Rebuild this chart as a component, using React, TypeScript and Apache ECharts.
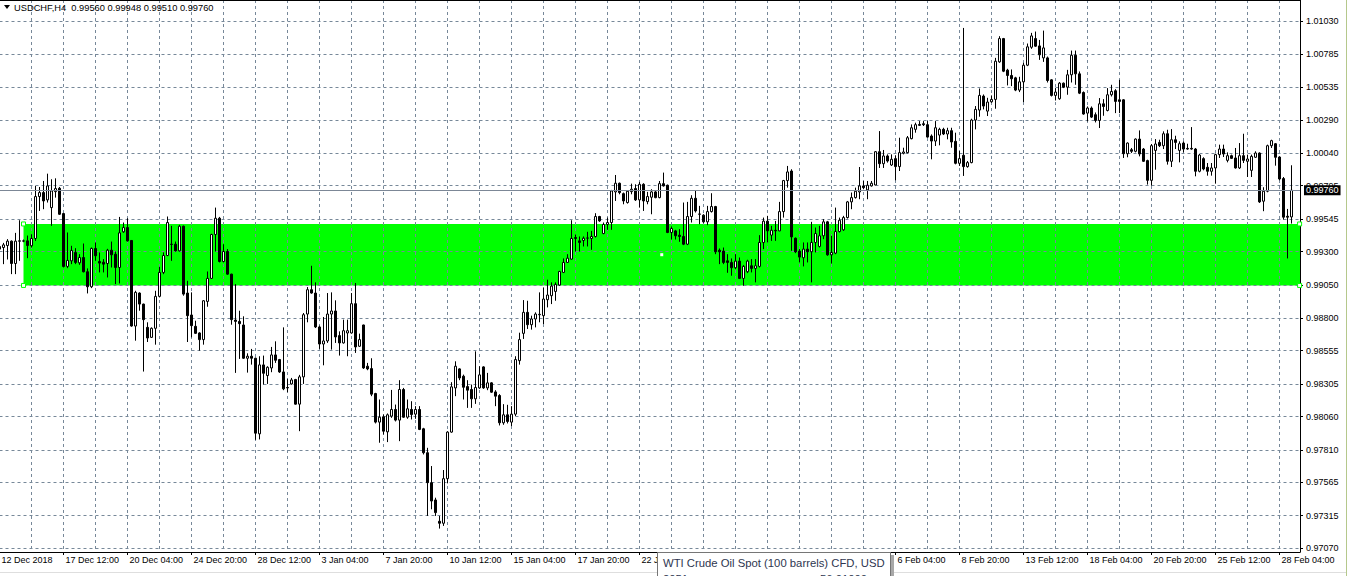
import React, { useEffect, useRef } from "react";
import * as echarts from "echarts";

// ---------- chart identity ----------
const SYMBOL = "USDCHF";
const TIMEFRAME = "H4";

// ---------- x axis: one label every 16 H4 bars, grid line every 8 bars ----------
const X_TICK_LABELS = [
  "12 Dec 2018", "17 Dec 12:00", "20 Dec 04:00", "24 Dec 20:00", "28 Dec 12:00",
  "3 Jan 04:00", "7 Jan 20:00", "10 Jan 12:00", "15 Jan 04:00", "17 Jan 20:00",
  "22 Jan 12:00", "25 Jan 04:00", "29 Jan 20:00", "1 Feb 12:00", "6 Feb 04:00",
  "8 Feb 20:00", "13 Feb 12:00", "18 Feb 04:00", "20 Feb 20:00", "25 Feb 12:00",
  "28 Feb 04:00",
];
// labels hidden behind the terminal's hover tooltip in the screenshot
const X_LABELS_UNDER_TOOLTIP = ["25 Jan 04:00", "29 Jan 20:00", "1 Feb 12:00"];
const BARS_PER_LABEL = 16;
const BARS_PER_GRID = 8;

// ---------- y axis tick labels ----------
const Y_TICKS = [
  1.0103, 1.00785, 1.00535, 1.0029, 1.0004, 0.99795, 0.99545, 0.993, 0.9905,
  0.988, 0.98555, 0.98305, 0.9806, 0.9781, 0.97565, 0.97315, 0.9707,
];

// ---------- support zone (green rectangle) ----------
const ZONE_START_BAR = 6;
const ZONE_TOP = 0.99507;
const ZONE_BOTTOM = 0.99045;

// ---------- H4 bars: [open, high, low, close] ----------
// 12 Dec 2018 20:00 .. 31 Dec 2018 20:00
const DEC_BARS = [
  [0.99318, 0.99355, 0.9918, 0.99338], [0.9933, 0.99365, 0.99205, 0.9935], [0.99345, 0.99393, 0.9924, 0.99378],
  [0.99378, 0.99383, 0.9913, 0.9921], [0.9921, 0.9944, 0.9913, 0.99378], [0.9938, 0.99535, 0.9923, 0.99378],
  [0.99378, 0.9939, 0.9937, 0.9938], [0.9938, 0.9942, 0.9925, 0.99345], [0.99343, 0.9943, 0.9933, 0.99398],
  [0.99398, 0.99793, 0.9938, 0.99713], [0.99713, 0.99785, 0.99605, 0.99743], [0.99743, 0.9983, 0.99618, 0.9968],
  [0.99688, 0.99885, 0.99668, 0.99793], [0.9963, 0.99843, 0.99493, 0.99755], [0.9975, 0.9985, 0.99705, 0.99773],
  [0.99775, 0.99785, 0.99575, 0.9958], [0.99585, 0.9959, 0.9918, 0.99188], [0.99188, 0.99443, 0.99175, 0.99233],
  [0.9923, 0.99343, 0.99205, 0.99308], [0.99293, 0.99325, 0.99205, 0.99218], [0.99215, 0.9928, 0.992, 0.99255],
  [0.99255, 0.9936, 0.99143, 0.99148], [0.99148, 0.99173, 0.98985, 0.99035], [0.99035, 0.9933, 0.99025, 0.99323],
  [0.99323, 0.99368, 0.9923, 0.99268], [0.99225, 0.99293, 0.99143, 0.99213], [0.9922, 0.99243, 0.99143, 0.99205],
  [0.9921, 0.9932, 0.99105, 0.9931], [0.9931, 0.99375, 0.9918, 0.99275], [0.9928, 0.993, 0.99055, 0.9918],
  [0.9918, 0.9956, 0.9906, 0.9944], [0.99448, 0.99518, 0.9944, 0.9948], [0.9948, 0.9955, 0.99375, 0.9938],
  [0.99383, 0.99385, 0.98735, 0.9874], [0.9874, 0.99005, 0.9863, 0.98993], [0.98988, 0.98993, 0.98855, 0.98905],
  [0.98905, 0.98908, 0.98398, 0.98788], [0.9873, 0.98768, 0.9862, 0.9865], [0.98655, 0.9873, 0.9865, 0.98723],
  [0.98723, 0.99005, 0.986, 0.98963], [0.98963, 0.99185, 0.98955, 0.99143], [0.99143, 0.99293, 0.9913, 0.9927],
  [0.9927, 0.99563, 0.99265, 0.99518], [0.99355, 0.99493, 0.9923, 0.99353], [0.99355, 0.99375, 0.993, 0.99305],
  [0.99305, 0.995, 0.993, 0.9949], [0.9949, 0.99495, 0.98968, 0.9898], [0.98988, 0.9908, 0.9862, 0.98818],
  [0.98823, 0.98993, 0.98655, 0.98743], [0.98738, 0.9878, 0.9868, 0.98685], [0.98688, 0.98693, 0.98555, 0.98638],
  [0.98638, 0.98935, 0.986, 0.9893], [0.98925, 0.9915, 0.98885, 0.99098], [0.99098, 0.99433, 0.99093, 0.99428],
  [0.99428, 0.9963, 0.993, 0.9955], [0.9955, 0.9956, 0.99218, 0.99225], [0.99225, 0.99355, 0.99218, 0.993],
  [0.993, 0.99318, 0.99125, 0.9913], [0.9913, 0.99133, 0.9875, 0.98788], [0.98785, 0.99055, 0.98388, 0.98775],
  [0.98775, 0.98855, 0.98493, 0.98758], [0.98748, 0.98813, 0.98493, 0.98498], [0.98498, 0.98535, 0.9839, 0.98513],
  [0.98513, 0.98568, 0.9845, 0.98498], [0.98498, 0.98503, 0.97885, 0.97935], [0.9793, 0.98513, 0.97888, 0.98448],
  [0.98448, 0.98518, 0.983, 0.98385], [0.98368, 0.98438, 0.98305, 0.9843], [0.98425, 0.98583, 0.98393, 0.98523],
  [0.98523, 0.98625, 0.98463, 0.98483], [0.98488, 0.98493, 0.98388, 0.98395], [0.98395, 0.9873, 0.98258, 0.98268],
  [0.98278, 0.98343, 0.98243, 0.98275],
];

// 2 Jan 2019 00:00 .. 31 Jan 2019 20:00
const JAN_BARS = [
  [0.98305, 0.9835, 0.983, 0.98335], [0.98338, 0.98343, 0.9815, 0.98153], [0.98153, 0.98373, 0.9795, 0.98358],
  [0.98358, 0.98838, 0.98305, 0.98825], [0.9883, 0.99033, 0.98768, 0.99013], [0.99013, 0.99193, 0.98983, 0.98988],
  [0.98988, 0.99068, 0.98725, 0.98733], [0.98733, 0.98743, 0.98568, 0.98605], [0.98605, 0.98808, 0.98445, 0.98628],
  [0.98628, 0.98988, 0.98613, 0.9883], [0.9883, 0.98993, 0.98563, 0.98853], [0.98853, 0.98933, 0.98613, 0.98658],
  [0.98668, 0.987, 0.98518, 0.98613], [0.98613, 0.98788, 0.98608, 0.98705], [0.98688, 0.98788, 0.98513, 0.98705],
  [0.98688, 0.98988, 0.98683, 0.98908], [0.98908, 0.99063, 0.98538, 0.98583], [0.98588, 0.98683, 0.98583, 0.98638],
  [0.98748, 0.9875, 0.98418, 0.98425], [0.98438, 0.98463, 0.98408, 0.98418], [0.9842, 0.98498, 0.98213, 0.98228],
  [0.98233, 0.98238, 0.98008, 0.98018], [0.98018, 0.98188, 0.97863, 0.98055], [0.98058, 0.98075, 0.97925, 0.9795],
  [0.97945, 0.98083, 0.97868, 0.98073], [0.98063, 0.9826, 0.9805, 0.98113], [0.98113, 0.9815, 0.98023, 0.98033],
  [0.98033, 0.98333, 0.97875, 0.98263], [0.98263, 0.98275, 0.9805, 0.98055], [0.98055, 0.98188, 0.98043, 0.98118],
  [0.98113, 0.98175, 0.98038, 0.98075], [0.98078, 0.98138, 0.98043, 0.98113], [0.98113, 0.98138, 0.97958, 0.97963],
  [0.97968, 0.97975, 0.97775, 0.97788], [0.97788, 0.97825, 0.97313, 0.97563], [0.97563, 0.97688, 0.97363, 0.97425],
  [0.97433, 0.9745, 0.97313, 0.97338], [0.97273, 0.97313, 0.97218, 0.97258], [0.97258, 0.97658, 0.97238, 0.97593],
  [0.97593, 0.9795, 0.97558, 0.97943], [0.97943, 0.98318, 0.97938, 0.98283], [0.98275, 0.98475, 0.98213, 0.98438],
  [0.98418, 0.98423, 0.98333, 0.9835], [0.98363, 0.98375, 0.98188, 0.9828], [0.98285, 0.98333, 0.98125, 0.98258],
  [0.98263, 0.983, 0.98125, 0.98193], [0.98193, 0.9855, 0.98155, 0.98278], [0.98275, 0.98438, 0.98268, 0.98373],
  [0.98433, 0.98438, 0.98268, 0.98275], [0.98275, 0.98388, 0.98258, 0.98313], [0.98313, 0.98318, 0.98238, 0.98243],
  [0.98245, 0.98258, 0.98138, 0.98213], [0.98218, 0.98228, 0.97993, 0.98013], [0.98013, 0.98153, 0.97998, 0.98073],
  [0.98073, 0.98148, 0.98008, 0.98023], [0.98018, 0.98138, 0.97988, 0.98078], [0.98078, 0.98513, 0.98063, 0.98488],
  [0.9848, 0.9869, 0.9845, 0.98638], [0.98685, 0.98935, 0.98643, 0.98843], [0.98843, 0.9893, 0.98718, 0.9875],
  [0.9875, 0.98818, 0.98713, 0.98793], [0.98793, 0.98843, 0.9873, 0.9883], [0.98825, 0.98993, 0.98768, 0.98828],
  [0.98818, 0.9903, 0.98755, 0.98943], [0.98938, 0.99088, 0.9888, 0.98973], [0.98968, 0.99068, 0.98905, 0.9904],
  [0.99, 0.99068, 0.9893, 0.99053], [0.99048, 0.99155, 0.99043, 0.9915], [0.99143, 0.99248, 0.99138, 0.99218],
  [0.99218, 0.9928, 0.99215, 0.9925], [0.99243, 0.99535, 0.99238, 0.99398], [0.99405, 0.99428, 0.993, 0.99398],
  [0.9938, 0.99413, 0.993, 0.99368], [0.99383, 0.99413, 0.99338, 0.994], [0.994, 0.99448, 0.99338, 0.99402],
  [0.99398, 0.99455, 0.99313, 0.99413], [0.99413, 0.99588, 0.99405, 0.99563], [0.99563, 0.99568, 0.99523, 0.9953],
  [0.99435, 0.99518, 0.9943, 0.99503], [0.99503, 0.99555, 0.99463, 0.99518], [0.99518, 0.99763, 0.99463, 0.99755],
  [0.99748, 0.99875, 0.9968, 0.99813], [0.99813, 0.99818, 0.9973, 0.99743], [0.99735, 0.99743, 0.99655, 0.9968],
  [0.99668, 0.99755, 0.9966, 0.99753], [0.9975, 0.9981, 0.9973, 0.99768], [0.99773, 0.99805, 0.9968, 0.99688],
  [0.99688, 0.99823, 0.9963, 0.99805], [0.99805, 0.99813, 0.99605, 0.9968], [0.99675, 0.99748, 0.99655, 0.99713],
  [0.99708, 0.99768, 0.9958, 0.99748], [0.99748, 0.99755, 0.997, 0.99705], [0.99705, 0.9983, 0.997, 0.9981],
  [0.9981, 0.99893, 0.99788, 0.99793], [0.99798, 0.99803, 0.99438, 0.99443], [0.99443, 0.99488, 0.9939, 0.99473],
  [0.99455, 0.99463, 0.9939, 0.99418], [0.99423, 0.99468, 0.99373, 0.99413], [0.99413, 0.99668, 0.99348, 0.99355],
  [0.99355, 0.99673, 0.99348, 0.99563], [0.99563, 0.99723, 0.99518, 0.997], [0.997, 0.99755, 0.99593, 0.99605],
  [0.9958, 0.99643, 0.99505, 0.99582], [0.99573, 0.9958, 0.99513, 0.99523], [0.99523, 0.99643, 0.99498, 0.996],
  [0.996, 0.99738, 0.99593, 0.99638], [0.99638, 0.99643, 0.9928, 0.99298], [0.9931, 0.99323, 0.99205, 0.99298],
  [0.99303, 0.9933, 0.99205, 0.99218], [0.9923, 0.9928, 0.9914, 0.99218], [0.99218, 0.99248, 0.99118, 0.99178],
  [0.99178, 0.9928, 0.99168, 0.99228], [0.99228, 0.99255, 0.99093, 0.99098], [0.99098, 0.99198, 0.99043, 0.99188],
  [0.99148, 0.99238, 0.99138, 0.99228], [0.99193, 0.99243, 0.99143, 0.99173], [0.99173, 0.99243, 0.99068, 0.99193],
  [0.99188, 0.99423, 0.9918, 0.99368], [0.99368, 0.99555, 0.99318, 0.99528], [0.99528, 0.99568, 0.99368, 0.99455],
  [0.99423, 0.99493, 0.9938, 0.9946], [0.9946, 0.9953, 0.9938, 0.99455], [0.99455, 0.99673, 0.99453, 0.996],
  [0.996, 0.99838, 0.99555, 0.99833], [0.99833, 0.99943, 0.9978, 0.99898], [0.99905, 0.99918, 0.99305, 0.9941],
  [0.994, 0.99405, 0.99288, 0.99298], [0.99303, 0.99318, 0.99218, 0.99258], [0.99253, 0.99368, 0.99188, 0.99318],
  [0.99318, 0.99368, 0.99218, 0.99298], [0.99298, 0.99523, 0.99068, 0.99368], [0.99368, 0.9948, 0.99293, 0.99435],
];

// 1 Feb 2019 00:00 .. 28 Feb 2019 16:00
const FEB_BARS = [
  [0.99338, 0.99493, 0.9933, 0.99418], [0.99418, 0.99543, 0.99393, 0.99523], [0.99523, 0.9953, 0.99268, 0.99275],
  [0.99275, 0.99418, 0.9921, 0.99293], [0.99288, 0.9963, 0.9928, 0.9945], [0.9945, 0.99555, 0.99443, 0.99535],
  [0.99463, 0.99568, 0.99455, 0.99555], [0.99555, 0.9968, 0.99548, 0.99673], [0.99673, 0.99743, 0.99618, 0.99705],
  [0.99705, 0.9978, 0.99698, 0.99753], [0.99748, 0.99935, 0.99693, 0.99793], [0.99793, 0.9983, 0.99768, 0.9978],
  [0.99763, 0.9983, 0.99693, 0.99798], [0.99793, 0.9983, 0.99788, 0.99813], [0.998, 1.00055, 0.99798, 1.0005],
  [1.0005, 1.00205, 0.99928, 0.9996], [0.9996, 1.00063, 0.99928, 1.00018], [1.00018, 1.0003, 0.99968, 0.9998],
  [0.9995, 1.0003, 0.99943, 0.99993], [0.99998, 1.00023, 0.99835, 0.99938], [0.99938, 1.00155, 0.99905, 1.00043],
  [1.00038, 1.0008, 1.0003, 1.00048], [1.00043, 1.00168, 1.00038, 1.00155], [1.00148, 1.00255, 1.00143, 1.0023],
  [1.00218, 1.00268, 1.00193, 1.00253], [1.00255, 1.0028, 1.00243, 1.00248], [1.0026, 1.0028, 1.00243, 1.00253],
  [1.00253, 1.0028, 1.00155, 1.0016], [1.00168, 1.0018, 0.99993, 1.0013], [1.0013, 1.0028, 1.00093, 1.0023],
  [1.00175, 1.0023, 1.00098, 1.00218], [1.00218, 1.0023, 1.00175, 1.00183], [1.00183, 1.0023, 1.00143, 1.00208],
  [1.00208, 1.0023, 1.0008, 1.00123], [1.00128, 1.00193, 0.99955, 0.99963], [0.99963, 1.00055, 0.99943, 0.99998],
  [1.00023, 1.0098, 0.99868, 0.99938], [0.99938, 0.9998, 0.9993, 0.99968], [0.99968, 1.00298, 0.99963, 1.00288],
  [1.00288, 1.00393, 1.00218, 1.00368], [1.00363, 1.00525, 1.00313, 1.00473], [1.00468, 1.0048, 1.00368, 1.00393],
  [1.00355, 1.00455, 1.00318, 1.00423], [1.00425, 1.00473, 1.00418, 1.00443], [1.00443, 1.00755, 1.00373, 1.0073],
  [1.00725, 1.00918, 1.00718, 1.009], [1.009, 1.00905, 1.00648, 1.00655], [1.00663, 1.00673, 1.00548, 1.00623],
  [1.00623, 1.00668, 1.00543, 1.00598], [1.00605, 1.00613, 1.00505, 1.00513], [1.00513, 1.00613, 1.00498, 1.00575],
  [1.00575, 1.00718, 1.00423, 1.007], [1.007, 1.00863, 1.00693, 1.00838], [1.00835, 1.00943, 1.00823, 1.0092],
  [1.009, 1.00953, 1.00838, 1.00843], [1.00845, 1.0089, 1.0074, 1.00778], [1.00755, 1.0096, 1.00725, 1.0083],
  [1.00755, 1.00765, 1.0057, 1.00585], [1.0059, 1.00595, 1.00465, 1.00473], [1.00473, 1.00528, 1.00435, 1.00498],
  [1.00448, 1.00573, 1.0044, 1.00565], [1.00565, 1.0057, 1.00528, 1.00535], [1.00535, 1.00665, 1.00478, 1.00628],
  [1.00628, 1.0081, 1.0057, 1.00775], [1.00775, 1.0081, 1.00553, 1.00635], [1.00635, 1.00653, 1.00483, 1.0049],
  [1.00495, 1.00503, 1.00328, 1.00333], [1.0034, 1.0039, 1.00278, 1.00378], [1.00378, 1.0039, 1.00303, 1.0031],
  [1.00328, 1.00345, 1.0027, 1.00285], [1.00285, 1.00453, 1.00228, 1.0041], [1.0041, 1.00445, 1.0032, 1.0039],
  [1.0036, 1.00528, 1.00353, 1.00478], [1.00478, 1.00553, 1.00465, 1.00503], [1.00508, 1.0052, 1.0034, 1.00428],
  [1.0044, 1.0059, 1.0034, 1.00428], [1.0044, 1.00445, 1.00003, 1.00035], [1.00035, 1.0012, 1.00008, 1.00115],
  [1.00065, 1.00078, 1.0004, 1.00053], [1.00053, 1.0015, 1.00045, 1.00145], [1.00145, 1.0021, 1.00015, 1.00033],
  [1.0007, 1.00078, 0.99973, 0.99978], [0.99983, 0.9999, 0.99803, 0.99835], [0.99835, 1.00108, 0.99795, 1.00095],
  [1.0006, 1.00145, 0.99915, 1.00108], [1.0012, 1.0014, 1.00085, 1.00095], [1.00095, 1.00203, 1.0007, 1.00185],
  [1.00185, 1.00215, 0.99953, 0.99978], [0.99978, 1.0022, 0.99935, 1.0014], [1.0014, 1.0017, 1.0007, 1.0012],
  [1.0006, 1.00128, 0.9997, 1.0011], [1.00115, 1.00128, 1.00045, 1.0007], [1.00075, 1.0011, 1.00065, 1.0007],
  [1.00075, 1.00235, 1.00065, 1.0007], [1.0007, 1.00078, 0.99865, 0.99903], [0.99903, 1.00033, 0.99895, 1.00025],
  [0.99998, 1.00008, 0.9991, 0.9992], [0.99933, 0.99965, 0.9987, 0.99903], [0.99903, 0.99965, 0.9987, 0.99928],
  [0.99928, 1.00035, 0.9981, 1.00028], [1.00028, 1.00103, 1.00003, 1.0007], [1.0007, 1.00103, 1.0001, 1.00033],
  [0.99985, 1.00045, 0.9997, 1.0002], [1.0002, 1.00028, 0.99995, 1.0], [1.00003, 1.00078, 0.99923, 0.99928],
  [0.99928, 1.00115, 0.9992, 1.0002], [1.0002, 1.00185, 0.99965, 0.99985], [0.99978, 1.00028, 0.9986, 0.99995],
  [0.9991, 1.00028, 0.9986, 1.00015], [1.00008, 1.00053, 1.00003, 1.0004], [1.0004, 1.00045, 0.99665, 0.99673],
  [0.99678, 0.99783, 0.99603, 0.99753], [0.99753, 1.00103, 0.99745, 1.00095], [1.00095, 1.0014, 1.00078, 1.00133],
  [1.0011, 1.00115, 0.99945, 1.00008], [1.0001, 1.00015, 0.99835, 0.99845], [0.99848, 0.9986, 0.9954, 0.99558],
  [0.99565, 0.9962, 0.99248, 0.99558], [0.9956, 0.99948, 0.9951, 0.9976],
];

// ---------- helpers (layout only) ----------
const FONT = '"Liberation Sans", Arial, sans-serif';
const GRID_COLOR = "#778899";
const X_MIN = 0;
const X_MAX = 325.125;
const Y_MIN = 0.97042;
const Y_MAX = 1.0119;

function buildOption() {
  const bars = [...DEC_BARS, ...JAN_BARS, ...FEB_BARS];
  const last = bars[bars.length - 1];
  const candleData = bars.map((b, i) => [i, b[0], b[3], b[2], b[1]]);
  const tickValues = X_TICK_LABELS.map((_, k) => k * BARS_PER_LABEL);
  const labelValues = tickValues.filter(
    (v) => !X_LABELS_UNDER_TOOLTIP.includes(X_TICK_LABELS[v / BARS_PER_LABEL])
  );
  const gridValues: number[] = [];
  for (let v = 0; v <= X_MAX; v += BARS_PER_GRID) gridValues.push(v);
  const header = `${SYMBOL},${TIMEFRAME}  ${last.map((v) => v.toFixed(5)).join(" ")}`;
  const zoneMidX = (ZONE_START_BAR + X_MAX) / 2;
  const zoneMidY = (ZONE_TOP + ZONE_BOTTOM) / 2;

  return {
    animation: false,
    backgroundColor: "#ffffff",
    grid: {
      left: -0.5,
      top: 0,
      width: 1300.5,
      height: 552,
      containLabel: false,
      outerBoundsMode: "none",
    },
    xAxis: [
      {
        type: "value",
        min: X_MIN,
        max: X_MAX,
        position: "bottom",
        z: 2,
        axisLine: { show: true, onZero: false, lineStyle: { color: "#000", width: 1 } },
        axisTick: { show: false, customValues: gridValues },
        axisLabel: { show: false, customValues: gridValues },
        splitLine: { show: true, lineStyle: { color: GRID_COLOR, width: 1, type: [3, 3] } },
      },
      {
        type: "value",
        min: X_MIN,
        max: X_MAX,
        position: "bottom",
        z: 2,
        axisLine: { show: false, onZero: false },
        axisTick: { show: true, length: 3, customValues: tickValues, lineStyle: { color: "#000" } },
        axisLabel: {
          show: true,
          customValues: labelValues,
          formatter: (v: number) => X_TICK_LABELS[Math.round(v / BARS_PER_LABEL)] ?? "",
          align: "left",
          margin: 3,
          padding: [0, 0, 0, 2],
          color: "#000",
          fontSize: 9,
          fontFamily: FONT,
        },
        splitLine: { show: false },
      },
    ],
    yAxis: {
      type: "value",
      position: "right",
      min: Y_MIN,
      max: Y_MAX,
      z: 2,
      axisLine: { show: true, onZero: false, lineStyle: { color: "#000", width: 1 } },
      axisTick: { show: true, length: 3, customValues: Y_TICKS, lineStyle: { color: "#000" } },
      axisLabel: {
        customValues: Y_TICKS,
        formatter: (v: number) => v.toFixed(5),
        margin: 6,
        color: "#000",
        fontSize: 9,
        fontFamily: FONT,
      },
      splitLine: { show: true, lineStyle: { color: GRID_COLOR, width: 1, type: [3, 3] } },
    },
    series: [
      {
        type: "candlestick",
        xAxisIndex: 0,
        yAxisIndex: 0,
        z: 3,
        silent: true,
        data: candleData,
        encode: { x: 0, y: [1, 2, 3, 4] },
        barWidth: 2,
        itemStyle: {
          color: "#ffffff",
          color0: "#000000",
          borderColor: "#000000",
          borderColor0: "#000000",
          borderColorDoji: "#000000",
          borderWidth: 1,
        },
        markArea: {
          silent: true,
          itemStyle: { color: "#00ff00", opacity: 1, borderWidth: 0 },
          label: { show: false },
          data: [[{ xAxis: ZONE_START_BAR, yAxis: ZONE_TOP }, { xAxis: X_MAX, yAxis: ZONE_BOTTOM }]],
        },
        markLine: {
          silent: true,
          precision: 5,
          symbol: ["none", "none"],
          lineStyle: { color: "#7c8796", type: "solid", width: 1 },
          label: {
            show: true,
            position: "end",
            distance: 4,
            formatter: () => last[3].toFixed(5),
            color: "#ffffff",
            backgroundColor: "#000000",
            padding: [1, 2, 0, 2],
            fontSize: 9,
            fontFamily: FONT,
          },
          data: [{ yAxis: last[3] }],
        },
        markPoint: {
          silent: true,
          symbol: "rect",
          symbolSize: 4,
          label: { show: false },
          itemStyle: { color: "#ffffff", borderColor: "#00ff00", borderWidth: 1 },
          data: [
            { coord: [ZONE_START_BAR, ZONE_TOP] },
            { coord: [ZONE_START_BAR, ZONE_BOTTOM] },
            { coord: [X_MAX - 0.1, ZONE_TOP] },
            { coord: [X_MAX - 0.1, ZONE_BOTTOM] },
            { coord: [zoneMidX, zoneMidY], symbolSize: 3, itemStyle: { color: "#ffffff", borderWidth: 0 } },
          ],
        },
      },
    ],
    graphic: [
      { type: "line", z: 10, shape: { x1: 0, y1: 0.5, x2: 1300, y2: 0.5 }, style: { stroke: "#000", lineWidth: 1 } },
      { type: "polygon", z: 10, shape: { points: [[4, 5], [10, 5], [7, 9]] }, style: { fill: "#000" } },
      {
        type: "text",
        z: 10,
        x: 14,
        y: 8,
        style: {
          text: header,
          fill: "#000",
          font: `9.3px ${FONT}`,
          textVerticalAlign: "middle",
          verticalAlign: "middle",
        },
      },
      // bottom window edge and right frame line
      { type: "line", z: 10, shape: { x1: 0, y1: 572.5, x2: 1346, y2: 572.5 }, style: { stroke: "#dedede", lineWidth: 1 } },
      { type: "line", z: 10, shape: { x1: 1346.5, y1: 0, x2: 1346.5, y2: 576 }, style: { stroke: "#b5c88c", lineWidth: 1 } },
      // hover tooltip from the terminal
      {
        type: "group",
        z: 20,
        children: [
          { type: "rect", z: 20, shape: { x: 891, y: 555, width: 3, height: 22 }, style: { fill: "#a8a8a8" } },
          { type: "rect", z: 21, shape: { x: 657.5, y: 552.5, width: 233, height: 30 }, style: { fill: "#ffffff", stroke: "#767676", lineWidth: 1 } },
          {
            type: "text",
            z: 22,
            x: 663,
            y: 562.5,
            style: { text: "WTI Crude Oil Spot (100 barrels) CFD, USD", fill: "#2e3650", font: `11.3px ${FONT}`, textVerticalAlign: "middle", verticalAlign: "middle" },
          },
          {
            type: "text",
            z: 22,
            x: 663,
            y: 579,
            style: { text: "2051", fill: "#2e3650", font: `11.3px ${FONT}`, textVerticalAlign: "middle", verticalAlign: "middle" },
          },
          {
            type: "text",
            z: 22,
            x: 820,
            y: 579,
            style: { text: "56.01000", fill: "#2e3650", font: `11.3px ${FONT}`, textVerticalAlign: "middle", verticalAlign: "middle" },
          },
        ],
      },
    ],
  };
}

export default function App() {
  const ref = useRef<HTMLDivElement>(null);
  useEffect(() => {
    if (!ref.current) return;
    const chart = echarts.init(ref.current, undefined, { renderer: "svg" });
    chart.setOption(buildOption() as any);
    return () => chart.dispose();
  }, []);
  return (
    <div
      ref={ref}
      style={{ position: "fixed", left: 0, top: 0, width: 1350, height: 576, background: "#ffffff" }}
    />
  );
}
